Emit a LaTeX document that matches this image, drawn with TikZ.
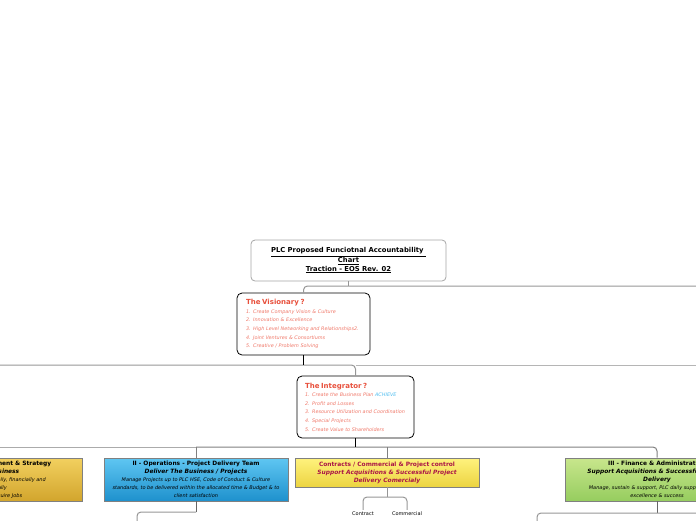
\documentclass[tikz,border=0pt]{standalone}
\usepackage{fontspec}
\setmainfont{DejaVu Sans}
\definecolor{visred}{RGB}{232,80,60}
\definecolor{vislight}{RGB}{240,120,105}
\definecolor{achieve}{RGB}{80,190,240}
\definecolor{conred}{RGB}{170,20,70}
\definecolor{goldT}{RGB}{242,208,95}
\definecolor{goldB}{RGB}{210,165,45}
\definecolor{blueT}{RGB}{95,198,242}
\definecolor{blueB}{RGB}{30,145,205}
\definecolor{yelT}{RGB}{255,242,125}
\definecolor{yelB}{RGB}{236,212,65}
\definecolor{grnT}{RGB}{200,230,140}
\definecolor{grnB}{RGB}{150,205,95}
\definecolor{busgray}{RGB}{150,150,150}
\newcommand{\hd}{\fontsize{5.9}{8}\selectfont\bfseries}
\newcommand{\sm}{\fontsize{5}{7.6}\selectfont\mdseries\itshape}
\newcommand{\ttl}{\fontsize{7}{8.6}\selectfont\bfseries\upshape\color{visred}}
\tikzset{
  conn/.style={draw=busgray, line width=1pt},
  stem/.style={draw=black, line width=0.8pt},
  whitebox/.style={draw=black, line width=0.8pt, rounded corners=5pt, fill=white,
    inner ysep=0pt, align=left, minimum height=62pt,
    font=\fontsize{4.9}{8.6}\selectfont\itshape\color{vislight}},
  titlebox/.style={draw=gray!70, line width=0.8pt, rounded corners=4pt, fill=white,
    minimum width=195pt, minimum height=41pt, inner sep=0pt, align=center,
    font=\fontsize{6.8}{8.5}\selectfont\bfseries},
  colbox/.style={draw=gray, line width=0.6pt, minimum width=184pt, inner sep=0pt, align=center,
    font=\fontsize{5.9}{8}\selectfont},
  lbl/.style={font=\fontsize{5}{6}\selectfont, inner sep=2pt}
}
\begin{document}
\begin{tikzpicture}[x=1pt,y=-1pt]
\useasboundingbox (0,0) rectangle (696,520);
\clip (0,0) rectangle (696,520);

% nodes
\node[titlebox] (top) at (348.5,260.5)
  {\underline{PLC Proposed Funciotnal Accountability }\\
   \underline{Chart}\\
   \underline{Traction - EOS Rev. 02}};

\node[whitebox, minimum width=133pt, text width=115pt, inner xsep=9pt] (vis) at (303.5,324)
  {{\ttl The Visionary ?}\\
   1. Create Company Vision \& Culture\\
   2. Innovation \& Excellence\\
   3. High Level Networking and Relationships2.\\
   4. Joint Ventures \& Consortiums\\
   5. Creative / Problem Solving};

\node[whitebox, minimum width=117pt, text width=101pt, inner xsep=8pt] (int) at (355.5,407)
  {{\ttl The Integrator ?}\\
   1. Create the Business Plan {\color{achieve}ACHIEVE}\\
   2. Profit and Losses\\
   3. Resource Utilization and Coordination\\
   4. Special Projects\\
   5. Create Value to Shareholders};

\node[colbox, minimum height=43pt, top color=goldT, bottom color=goldB] (mgmt) at (-10,479.5)
  {{\hd I - Business Development \& Strategy}\\
   {\hd\itshape Win The Business}\\
   {\sm Identify, evaluate technically, financially and}\\
   {\sm commercially}\\
   {\sm Bid, Win and Acquire Jobs}};

\node[colbox, minimum height=43pt, top color=blueT, bottom color=blueB] (ops) at (196,479.5)
  {{\hd II - Operations - Project Delivery Team}\\
   {\hd\itshape Deliver The Business / Projects}\\
   {\sm Manage Projects up to PLC HSE, Code of Conduct \& Culture}\\
   {\sm standards, to be delivered within the allocated time \& Budget \& to}\\
   {\sm client satisfaction}};

\node[colbox, minimum height=29pt, top color=yelT, bottom color=yelB] (con) at (387,472.5)
  {{\hd\color{conred} Contracts / Commercial \& Project control}\\
   {\hd\itshape\color{conred} Support Acquisitions \& Successful Project}\\
   {\hd\itshape\color{conred} Delivery Comercialy}};

\node[colbox, minimum height=43pt, top color=grnT, bottom color=grnB] (fin) at (657,479.5)
  {{\hd III - Finance \& Administration}\\
   {\hd\itshape Support Acquisitions \& Successful Project}\\
   {\hd\itshape Delivery}\\
   {\sm Manage, sustain \& support, PLC daily support services}\\
   {\sm excellence \& success}};

\node[lbl] (lblA) at (363,514) {Contract};
\node[lbl] (lblB) at (407,514) {Commercial};

% bus coordinates
\coordinate (b1) at (348.5,286);
\coordinate (b1R) at (705,286);
\coordinate (b2L) at (-5,365);
\coordinate (b2R) at (705,365);
\coordinate (b3L) at (-5,447);
\coordinate (b4) at (387,497);
\coordinate (b5) at (196,512);
\coordinate (b5L) at (137,530);
\coordinate (b6) at (657,513);
\coordinate (b6L) at (537,530);
\coordinate (b6R) at (705,513);

% top -> visionary
\draw[conn] (top.south) -- (b1);
\draw[conn, rounded corners=4pt] (vis.north) |- (b1R);

% visionary -> integrator
\draw[conn, rounded corners=4pt] (b2L) -| (int.north);
\draw[conn, draw=busgray!70] (int.north |- b2L) -- (b2R);
\draw[stem] (vis.south) -- (vis.south |- b2L);

% integrator -> departments
\draw[conn, draw=busgray!80] (b3L) -- (ops.north |- b3L);
\draw[conn, draw=gray, rounded corners=4pt] (ops.north |- b3L) -| (fin.north);
\draw[conn, draw=gray] (ops.north) -- (ops.north |- b3L);
\draw[conn, draw=gray] (con.north) -- (con.north |- b3L);
\draw[stem] (int.south) -- (int.south |- b3L);

% contracts sub-branches
\draw[conn] (con.south) -- (b4);
\draw[conn, rounded corners=4pt] (lblA.north) |- (b4) -| (lblB.north);

% operations sub-branch
\draw[conn, draw=gray!80!black] (ops.south) -- (b5);
\draw[conn, rounded corners=4pt] (b5) -| (b5L);

% finance sub-branch
\draw[conn, draw=gray!80!black] (fin.south) -- (b6);
\draw[conn, rounded corners=4pt] (b6R) -| (b6L);
\end{tikzpicture}
\end{document}
